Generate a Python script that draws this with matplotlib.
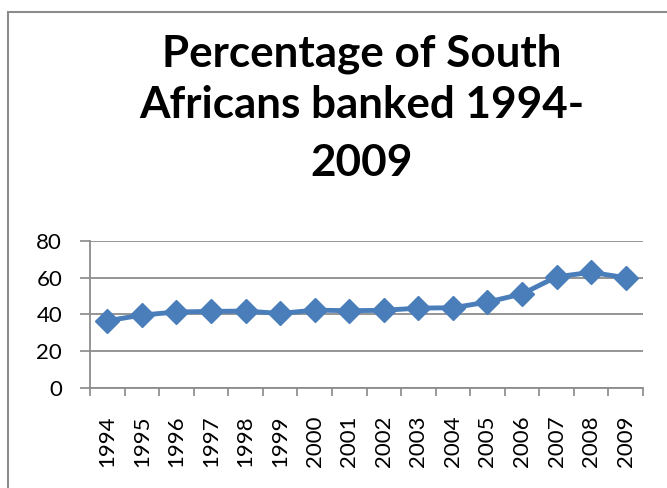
import matplotlib
matplotlib.use("Agg")
import matplotlib.pyplot as plt
from matplotlib.patches import Rectangle

years = ["1994", "1995", "1996", "1997", "1998", "1999", "2000", "2001",
         "2002", "2003", "2004", "2005", "2006", "2007", "2008", "2009"]
percent_banked = [36.5, 39.6, 41.3, 41.6, 41.8, 40.5, 42.3, 42.0,
                  42.2, 43.4, 43.6, 46.7, 51.1, 60.5, 62.9, 60.0]
y_ticks = [0, 20, 40, 60, 80]
title_lines = ["Percentage of South", "Africans banked 1994-", "2009"]

plt.rcParams['font.family'] = ['Lato', 'DejaVu Sans']

fig = plt.figure(figsize=(6.67, 4.88), dpi=100)
W, H = 667, 488
fig.patches.append(Rectangle((8 / W, -0.1), 1.2, 1 - 12 / H + 0.1,
                             transform=fig.transFigure, fill=False,
                             edgecolor="#8c8c8c", linewidth=1.5, clip_on=False))

ax = fig.add_axes([90 / W, 1 - 387.7 / H, (643 - 90) / W, (387.7 - 241) / H])
x = list(range(len(years)))
ax.plot(x, percent_banked, color="#4A7EBB", linewidth=3.5, marker="D",
        markersize=12.5, markerfacecolor="#4A7EBB", markeredgecolor="#4A7EBB",
        clip_on=False, zorder=3)

ax.set_xlim(-0.5, len(years) - 0.5)
ax.set_ylim(0, 80)
ax.set_yticks(y_ticks)
ax.set_yticklabels([str(v) for v in y_ticks], fontsize=16)
ax.set_xticks(x)
ax.set_xticklabels(years, rotation=90, fontsize=16)
ax.tick_params(axis="x", which="major", length=0, pad=20)
ax.set_xticks([i - 0.5 for i in range(len(years) + 1)], minor=True)
ax.tick_params(axis="x", which="minor", length=6, color="#888888", width=1.2)
ax.tick_params(axis="y", length=7, color="#888888", width=1.2, pad=13)

ax.grid(axis="y", color="#8c8c8c", linewidth=1.3)
ax.set_axisbelow(True)
for side in ["top", "right"]:
    ax.spines[side].set_visible(False)
for side in ["left", "bottom"]:
    ax.spines[side].set_color("#8c8c8c")
    ax.spines[side].set_linewidth(1.3)

for line, base in zip(title_lines, [66.7, 118.0, 176.0]):
    fig.text(361.5 / W, 1 - base / H, line, ha="center", va="baseline",
             fontsize=31.7, fontweight="bold")

fig.savefig("out.png", dpi=100)
